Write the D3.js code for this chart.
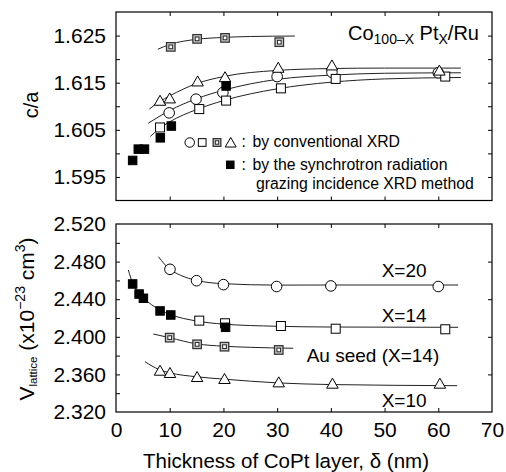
<!DOCTYPE html>
<html><head><meta charset="utf-8">
<script src="https://cdn.jsdelivr.net/npm/d3@7/dist/d3.min.js"></script>
<style>
body{margin:0;background:#fff;}
text{font-family:"Liberation Sans",Arial,sans-serif;fill:#000;}
</style></head>
<body><svg id="c" width="506" height="472"></svg>
<script>
// ---------- data ----------
const xTicks = [0,10,20,30,40,50,60,70];
const caTickLabels = [1.595,1.605,1.615,1.625];
const caTicks = [1.595,1.600,1.605,1.610,1.615,1.620,1.625];
const vTickLabels = [2.320,2.360,2.400,2.440,2.480,2.520];
const vTicks = [2.340,2.360,2.380,2.400,2.420,2.440,2.460,2.480,2.500];
const vTicksRight = [2.360,2.400,2.440,2.480];

// top panel c/a
const caCircleX = [9.9,14.9,19.9,30.0,40.2,60.0];
const caCircle  = [1.6086,1.6115,1.6129,1.6163,1.6172,1.6171];
const caSquareX = [8.2,15.5,20.5,30.7,40.9,61.3];
const caSquare  = [1.6055,1.6094,1.6112,1.6138,1.6158,1.6163];
const caTriX = [8.2,10.0,15.2,20.3,30.2,40.2,60.2];
const caTri  = [1.6111,1.6116,1.6152,1.6161,1.6181,1.6186,1.6175];
const caAuX = [10.2,15.1,20.3,30.4];
const caAu  = [1.6226,1.6243,1.6245,1.6236];
const caSrX = [3.1,4.15,5.3,8.25,10.3,20.5];
const caSr  = [1.5985,1.6009,1.6009,1.6033,1.6058,1.6143];

const fitCaTriX = [6.2,8,10,15,20,30,40,50,64.2];
const fitCaTri  = [1.6094,1.6109,1.6122,1.6148,1.6163,1.6176,1.6180,1.6181,1.6181];
const fitCaCirX = [6.0,8,10,15,20,30,40,50,64.2];
const fitCaCir  = [1.6064,1.6078,1.6091,1.6116,1.6134,1.6157,1.6166,1.6170,1.6171];
const fitCaSqX = [6.4,8,10,15,20,30,40,50,64.2];
const fitCaSq  = [1.6036,1.6052,1.6067,1.6093,1.6112,1.6137,1.6151,1.6158,1.6161];
const fitCaAuX = [7.8,10,15,20,25,33.3];
const fitCaAu  = [1.6221,1.6231,1.6242,1.6246,1.6248,1.6249];

// bottom panel V_lattice
const vCircleX = [10.05,15.0,20.0,29.9,40.0,60.0];
const vCircle  = [2.4718,2.4597,2.4555,2.4535,2.4541,2.4535];
const vSquareX = [15.5,20.3,30.7,40.9,61.3];
const vSquare  = [2.4172,2.4144,2.4115,2.4086,2.4080];
const vTriX = [8.2,10.05,15.1,20.2,30.3,40.3,60.3];
const vTri  = [2.3636,2.3612,2.3569,2.3548,2.3512,2.3498,2.3498];
const vAuX = [10.0,15.1,20.2,30.3];
const vAu  = [2.3991,2.3920,2.3895,2.3860];
const vSrX = [3.1,4.3,5.1,8.2,10.2,20.4];
const vSr  = [2.4562,2.4455,2.4410,2.4275,2.4232,2.4101];

const fitVCirX = [7.9,9,10,12,15,20,30,40,63.7];
const fitVCir  = [2.4852,2.4775,2.4720,2.4655,2.4600,2.4565,2.4550,2.4551,2.4551];
const fitVSqX = [2.3,3.1,4.3,5.1,8.2,10.2,15,20,30,40,63.7];
const fitVSq  = [2.4711,2.4570,2.4465,2.4415,2.4285,2.4235,2.4168,2.4135,2.4112,2.4104,2.4101];
const fitVAuX = [6.95,10,15,20,25,33];
const fitVAu  = [2.4030,2.3990,2.3925,2.3900,2.3888,2.3878];
const fitVTriX = [5.4,8,10,15,20,30,40,63.5];
const fitVTri  = [2.3735,2.3652,2.3617,2.3575,2.3550,2.3510,2.3492,2.3480];

// ---------- drawing ----------
const svg = d3.select("#c");
const L = 116, R = 492;
const x = d3.scaleLinear().domain([0,70]).range([L,R]);
const yT = d3.scaleLinear().domain([1.590,1.630]).range([200.5,12]);
const yB = d3.scaleLinear().domain([2.320,2.520]).range([412,224]);

function frame(y){
  const [b,t] = y.range();
  svg.append("rect").attr("x",L).attr("y",t).attr("width",R-L).attr("height",b-t)
    .attr("fill","none").attr("stroke","#000").attr("stroke-width",1.2);
}
function axes(y, leftTicks, labels, rightTicks, fmt){
  const [b,t] = y.range();
  // left ticks
  const gl = svg.append("g").attr("transform",`translate(${L},0)`)
    .call(d3.axisLeft(y).tickValues(leftTicks).tickSize(-4).tickFormat(""));
  gl.select(".domain").remove();
  const gll = svg.append("g").attr("transform",`translate(${L},0)`)
    .call(d3.axisLeft(y).tickValues(labels).tickSize(0).tickPadding(10).tickFormat(fmt));
  gll.select(".domain").remove();
  gll.selectAll("text").attr("font-size",21).attr("font-family","Liberation Sans, Arial, sans-serif");
  const gr = svg.append("g").attr("transform",`translate(${R},0)`)
    .call(d3.axisRight(y).tickValues(rightTicks).tickSize(-4).tickFormat(""));
  gr.select(".domain").remove();
  const inner = xTicks.filter(d=>d>0 && d<70);
  const gt = svg.append("g").attr("transform",`translate(0,${t})`)
    .call(d3.axisTop(x).tickValues(inner).tickSize(-4).tickFormat(""));
  gt.select(".domain").remove();
  const gb = svg.append("g").attr("transform",`translate(0,${b})`)
    .call(d3.axisBottom(x).tickValues(inner).tickSize(-4).tickFormat(""));
  gb.select(".domain").remove();
  svg.selectAll(".tick line").attr("stroke","#000");
}

const fmt3 = d3.format(".3f");
axes(yT, caTicks, caTickLabels, caTicks, fmt3);
axes(yB, vTicks, vTickLabels, vTicksRight, fmt3);

// x labels
const gxl = svg.append("g").attr("transform",`translate(0,412)`)
  .call(d3.axisBottom(x).tickValues(xTicks).tickSize(0).tickPadding(10).tickFormat(d3.format("d")));
gxl.select(".domain").remove();
gxl.selectAll("text").attr("font-size",21).attr("font-family","Liberation Sans, Arial, sans-serif");

const line = (y) => d3.line().x(d=>x(d[0])).y(d=>y(d[1])).curve(d3.curveMonotoneX);
function fit(xs, vs, y){
  svg.append("path").attr("d", line(y)(d3.zip(xs,vs)))
    .attr("fill","none").attr("stroke","#222").attr("stroke-width",1);
}
fit(fitCaAuX, fitCaAu, yT);
fit(fitCaTriX, fitCaTri, yT);
fit(fitCaCirX, fitCaCir, yT);
fit(fitCaSqX, fitCaSq, yT);
fit(fitVCirX, fitVCir, yB);
fit(fitVSqX, fitVSq, yB);
fit(fitVAuX, fitVAu, yB);
fit(fitVTriX, fitVTri, yB);

function mark(g, type, cx, cy, s){
  if(type==="circle"){
    g.append("circle").attr("cx",cx).attr("cy",cy).attr("r",s/2)
      .attr("fill","#fff").attr("stroke","#000").attr("stroke-width",1);
  } else if(type==="square" || type==="filled"){
    g.append("rect").attr("x",cx-s/2).attr("y",cy-s/2).attr("width",s).attr("height",s)
      .attr("fill", type==="filled"?"#000":"#fff").attr("stroke","#000").attr("stroke-width",1);
  } else if(type==="au"){
    g.append("rect").attr("x",cx-s/2).attr("y",cy-s/2).attr("width",s).attr("height",s)
      .attr("fill","#d0d0d0").attr("stroke","#333").attr("stroke-width",1.3);
    g.append("rect").attr("x",cx-s*0.22).attr("y",cy-s*0.22).attr("width",s*0.44).attr("height",s*0.44)
      .attr("fill","#fff").attr("stroke","#222").attr("stroke-width",1);
  } else if(type==="tri"){
    const h = s*0.87;
    g.append("path").attr("d",`M${cx},${cy-h*0.58}L${cx+s/2},${cy+h*0.42}L${cx-s/2},${cy+h*0.42}Z`)
      .attr("fill","#fff").attr("stroke","#000").attr("stroke-width",1);
  }
}
function series(xs, vs, y, type, s){
  const g = svg.append("g");
  xs.forEach((xv,i)=>mark(g,type,x(xv),y(vs[i]),s));
}
// top
series(caCircleX, caCircle, yT, "circle", 10.6);
series(caSquareX, caSquare, yT, "square", 9);
series(caTriX, caTri, yT, "tri", 11.5);
series(caAuX, caAu, yT, "au", 8.5);
series(caSrX, caSr, yT, "filled", 8.5);
// bottom
series(vCircleX, vCircle, yB, "circle", 10.6);
series(vSquareX, vSquare, yB, "square", 9);
series(vTriX, vTri, yB, "tri", 11.5);
series(vAuX, vAu, yB, "au", 8.5);
series(vSrX, vSr, yB, "filled", 8.5);

frame(yT); frame(yB);

// legend
const lg = svg.append("g");
mark(lg,"circle",189.7,142.5,9.5);
mark(lg,"square",202.2,142.5,7.7);
mark(lg,"au",217,142.5,7.7);
mark(lg,"tri",230.7,143,11);
mark(lg,"filled",230.3,164.8,7.5);
const lt = (t,xx,yy)=>svg.append("text").attr("x",xx).attr("y",yy).attr("font-size",15.8).text(t);
lt(":",241.5,147); lt("by conventional XRD",252.5,147);
lt(":",241.5,170); lt("by the synchrotron radiation",252.5,170);
lt("grazing incidence XRD method",256,189);

// title in top panel
const tt = svg.append("text").attr("x",348).attr("y",40).attr("font-size",20);
tt.append("tspan").text("Co");
tt.append("tspan").attr("font-size",14).attr("dy",4).text("100\u2013X");
tt.append("tspan").attr("dy",-4).text(" Pt");
tt.append("tspan").attr("font-size",14).attr("dy",4).text("X");
tt.append("tspan").attr("dy",-4).text("/Ru");

// annotations bottom
const ann = (t,xx,yy)=>svg.append("text").attr("x",xx).attr("y",yy).attr("font-size",19).text(t);
ann("X=20",381.7,277);
ann("X=14",381.7,322);
ann("Au seed (X=14)",306.7,362);
ann("X=10",381.7,407);

// axis titles
svg.append("text").attr("x",286).attr("y",468).attr("text-anchor","middle").attr("font-size",20.5)
  .text("Thickness of CoPt layer, \u03b4 (nm)");
svg.append("text").attr("transform","translate(38,105) rotate(-90)").attr("text-anchor","middle")
  .attr("font-size",20).text("c/a");
const vt = svg.append("text").attr("transform","translate(33.5,319) rotate(-90)").attr("text-anchor","middle")
  .attr("font-size",21);
vt.append("tspan").text("V");
vt.append("tspan").attr("font-size",11.5).attr("dy",3).text("lattice");
vt.append("tspan").attr("dy",-3).text(" (x10");
vt.append("tspan").attr("font-size",14).attr("dy",-9).text("\u221223");
vt.append("tspan").attr("dy",9).text(" cm");
vt.append("tspan").attr("font-size",14).attr("dy",-9).text("3");
vt.append("tspan").attr("dy",9).text(")");
</script></body></html>
